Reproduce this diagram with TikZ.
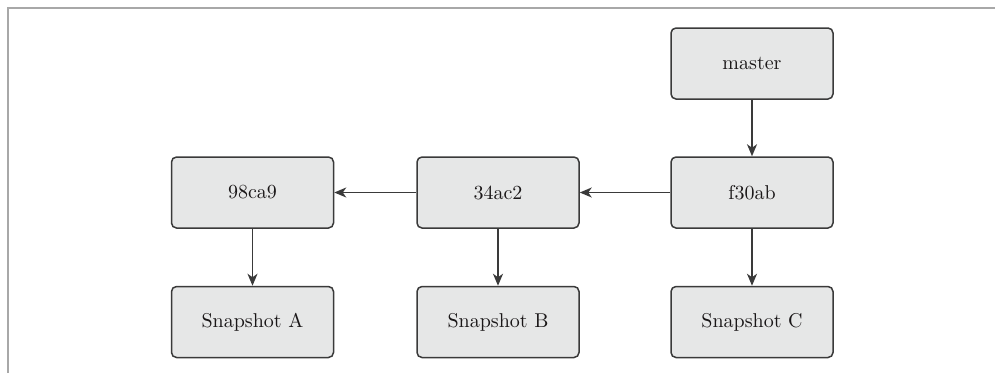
\documentclass[tikz,border=0pt]{standalone}
\usepackage{fontspec}
\newfontfamily\boxfont{lmroman10-regular.otf}
\usetikzlibrary{arrows.meta}
\definecolor{boxfill}{HTML}{E6E7E7}
\definecolor{boxline}{HTML}{3A3A3A}
\definecolor{txt}{HTML}{1A1718}
\definecolor{frameline}{HTML}{A8A8A8}
\begin{document}
\begin{tikzpicture}[x=1pt,y=-1pt,
  gbox/.style={draw=boxline, fill=boxfill, line width=1.5pt, rounded corners=5pt,
    minimum width=162pt, minimum height=71pt, inner sep=0pt, text=txt,
    font=\boxfont\fontsize{20}{24}\selectfont},
  conn/.style={draw=boxline, line width=1.6pt, -{Stealth[length=12pt,width=10pt,inset=3.5pt]}}]
\useasboundingbox (0,0) rectangle (995,373);
\draw[frameline, line width=2pt] (7.5,373) -- (7.5,8) -- (995,8);
\node[gbox] (master) at (752,63.5) {master};
\node[gbox] (f30ab) at (752,192.5) {f30ab};
\node[gbox] (c34ac2) at (498,192.5) {34ac2};
\node[gbox] (c98ca9) at (252.5,192.5) {98ca9};
\node[gbox] (snapA) at (252.5,322) {Snapshot A};
\node[gbox] (snapB) at (498,322) {Snapshot B};
\node[gbox] (snapC) at (752,322) {Snapshot C};
\draw[conn] (master) -- (f30ab);
\draw[conn] (f30ab) -- (c34ac2);
\draw[conn] (c34ac2) -- (c98ca9);
\draw[conn] (c98ca9) -- (snapA);
\draw[conn] (c34ac2) -- (snapB);
\draw[conn] (f30ab) -- (snapC);
\end{tikzpicture}
\end{document}
